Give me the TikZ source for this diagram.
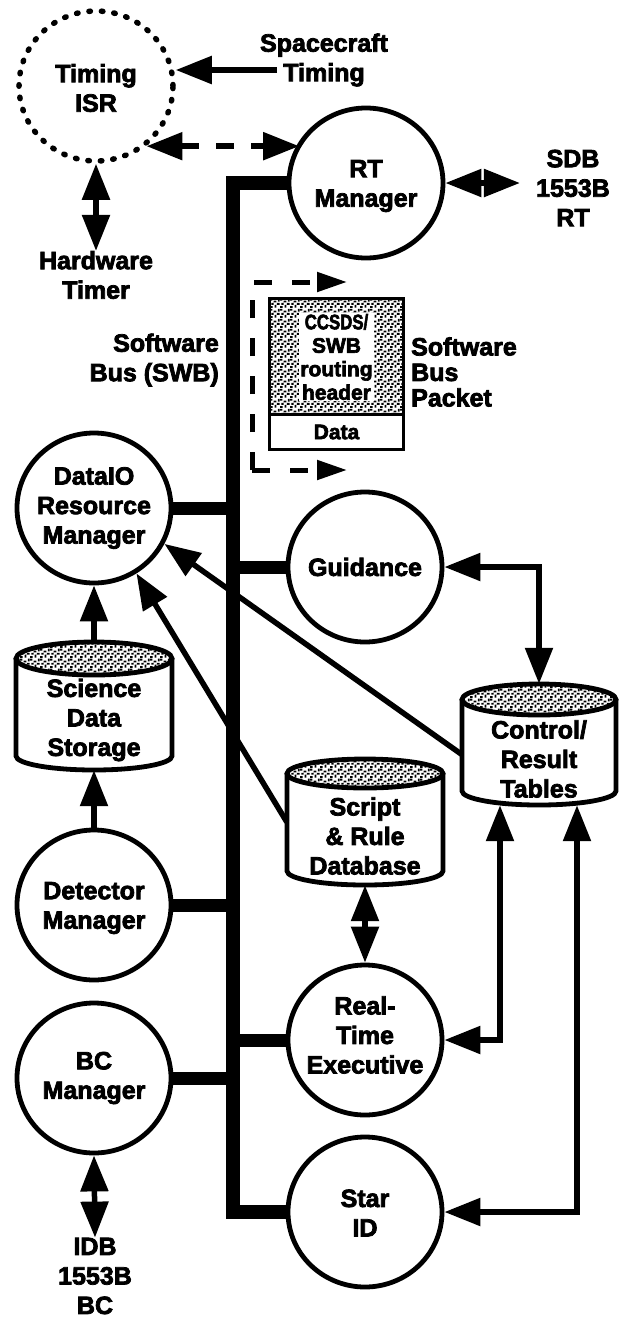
\documentclass[tikz,border=0pt]{standalone}
\usepackage{fontspec}
\setmainfont{Liberation Sans}[BoldFeatures={FakeBold=3}]
\usetikzlibrary{arrows.meta,shapes.geometric,patterns}
\pgfdeclarepatternformonly{speckle}{\pgfpoint{0pt}{0pt}}{\pgfpoint{10pt}{10pt}}{\pgfpoint{10pt}{10pt}}{%
  \pgfpathrectangle{\pgfpoint{0pt}{0pt}}{\pgfpoint{3pt}{2pt}}%
  \pgfpathrectangle{\pgfpoint{5pt}{0.5pt}}{\pgfpoint{2pt}{3pt}}%
  \pgfpathrectangle{\pgfpoint{7.5pt}{3.5pt}}{\pgfpoint{3pt}{2pt}}%
  \pgfpathrectangle{\pgfpoint{1.5pt}{3.5pt}}{\pgfpoint{2.5pt}{2pt}}%
  \pgfpathrectangle{\pgfpoint{4pt}{6pt}}{\pgfpoint{3pt}{2pt}}%
  \pgfpathrectangle{\pgfpoint{8.5pt}{7pt}}{\pgfpoint{2pt}{3pt}}%
  \pgfpathrectangle{\pgfpoint{0pt}{8pt}}{\pgfpoint{2.5pt}{2pt}}%
  \pgfusepath{fill}}
\begin{document}
\begin{tikzpicture}[x=1pt,y=-1pt,
  proc/.style={ellipse, draw, line width=4.8pt, minimum width=154pt, minimum height=150pt, inner sep=0pt},
  timer/.style={proc, line width=5.5pt, dash pattern=on 1.5pt off 11pt, line cap=round},
  txt/.style={font=\bfseries\fontsize{25}{29.5}\selectfont, align=center, inner sep=0pt},
  small/.style={font=\bfseries\fontsize{21}{23.5}\selectfont, align=center, inner sep=0pt},
  bus/.style={line width=14pt, line join=miter},
  stub/.style={line width=13pt, shorten <=-3pt},
  stubl/.style={line width=13pt, shorten >=-3pt},
  arr/.style={line width=5.5pt, -{Triangle[length=36pt,width=27pt]}},
  darr/.style={line width=5.5pt, {Triangle[length=36pt,width=27pt]}-{Triangle[length=36pt,width=27pt]}},
  cyl/.style={line width=4.8pt, fill=white},
  speck/.style={line width=4.8pt, preaction={fill=white}, pattern=speckle},
  abox/.style={draw=none, inner sep=0pt, rectangle},
  pkd/.style={line width=5pt, dash pattern=on 18pt off 20pt, -{Triangle[length=30pt,width=19pt]}},
]
\useasboundingbox (0,0) rectangle (623,1318);

% ---- process circles
\node[timer] (isr) at (96,86) {};
\node[proc] (rt) at (366,183) {};
\node[proc] (dataio) at (94,508) {};
\node[proc] (guid) at (365,567) {};
\node[proc] (det) at (94,905) {};
\node[proc] (rte) at (365,1040) {};
\node[proc] (bc) at (94,1078) {};
\node[proc] (star) at (365,1212) {};

\node[txt] (isrt) at (96,88) {Timing\\ISR};
\node[txt] (rtt) at (366,186) {RT\\Manager};
\node[txt] (dataiot) at (94,508) {DataIO\\Resource\\Manager};
\node[txt] (guidt) at (365,567) {Guidance};
\node[txt] (dett) at (94,908) {Detector\\Manager};
\node[txt] (rtet) at (365,1035) {Real-\\Time\\Executive};
\node[txt] (bct) at (94,1078) {BC\\Manager};
\node[txt] (start) at (365,1213) {Star\\ID};

% ---- cylinders
\node[abox, minimum width=156pt, minimum height=128pt] (sci) at (94,706) {};
\draw[cyl] (16,658.5) -- (16,756) arc[start angle=180, end angle=360, x radius=78pt, y radius=14pt] -- (172,658.5);
\draw[speck] (94,658.5) ellipse [x radius=78pt, y radius=16.5pt];
\node[txt] (scit) at (94,720) {Science\\Data\\Storage};

\node[abox, minimum width=154pt, minimum height=121pt] (ctl) at (539,744.5) {};
\draw[cyl] (462,699.5) -- (462,791) arc[start angle=180, end angle=360, x radius=77pt, y radius=14pt] -- (616,699.5);
\draw[speck] (539,699.5) ellipse [x radius=77pt, y radius=15.5pt];
\node[txt] (ctlt) at (539,759) {Control/\\Result\\Tables};

\node[abox, minimum width=156pt, minimum height=126pt] (scr) at (365,822) {};
\draw[cyl] (287,773.5) -- (287,871) arc[start angle=180, end angle=360, x radius=78pt, y radius=14pt] -- (443,773.5);
\draw[speck] (365,773.5) ellipse [x radius=78pt, y radius=14.5pt];
\node[txt] (scrt) at (365,836) {Script\\\& Rule\\Database};

% ---- free text
\node[txt] (sc) at (324,60) {Spacecraft\\Timing};
\node[txt] (hw) at (96,275) {Hardware\\Timer};
\node[txt, inner xsep=16pt] (sdb) at (573,188) {SDB\\1553B\\RT};
\node[txt, align=right, anchor=east] (swb) at (219,360) {Software\\Bus (SWB)};
\node[txt, align=left, anchor=west, font=\bfseries\fontsize{25}{25.5}\selectfont] (sbp) at (411,372) {Software\\Bus\\Packet};
\node[txt] (idb) at (95,1276) {IDB\\1553B\\BC};

% ---- software bus
\coordinate (bustop) at (233,183);
\coordinate (busbot) at (233,1212);
\draw[bus] (rt.west) -- (bustop) -- (busbot) -- (star.west);
\draw[stub] (dataio.east) -- (dataio.east -| bustop);
\draw[stubl] (guid.west -| bustop) -- (guid.west);
\draw[stub] (det.east) -- (det.east -| bustop);
\draw[stubl] (rte.west -| bustop) -- (rte.west);
\draw[stub] (bc.east) -- (bc.east -| bustop);

% ---- packet
\node[abox, minimum width=134pt, minimum height=150pt] (pkt) at (336.5,374) {};
\coordinate (pdiv) at (336.5,414);
\fill[white] (pkt.north west) rectangle (pkt.south east);
\fill[pattern=speckle] (pkt.north west) rectangle (pkt.east |- pdiv);
\draw[line width=3pt] (pkt.west |- pdiv) -- (pkt.east |- pdiv);
\draw[line width=3pt] (pkt.north west) rectangle (pkt.south east);
\node[small, fill=white, inner sep=1pt] (hdr) at (336.5,357) {\scalebox{0.8}[1]{CCSDS/}\\SWB\\routing\\header};
\node[small] (dat) at (336.5,432) {Data};
\coordinate (pa) at (252,282);
\coordinate (pb) at (252,470);
\coordinate (pta) at (347,282);
\coordinate (ptb) at (347,470);
\draw[pkd] (pb) -- (pa) -- (pta);
\draw[pkd] (pb) -- (ptb);

% ---- connectors
\coordinate (scin) at (277,70);
\draw[arr] (scin) -- (scin -| isr.east);
\draw[darr, dash pattern=on 18pt off 17pt] (isr.-50) -- (isr.-50 -| rt.148);
\draw[darr] (isr.south) -- (hw.north);
\draw[darr] (rt.east) -- (rt.east -| sdb.west);
\draw[arr] (sci.north) -- (sci.north |- dataio.south);
\draw[arr] (det.north) -- (det.north |- sci.south);
\draw[arr] ([yshift=-10pt]ctl.west) -- (dataio.-27);
\draw[arr] (scr.west) -- (dataio.-57);
\draw[darr] (guid.east) -| (ctl.north);
\draw[darr] (scr.south) -- (rte.north);
\draw[darr] (rte.east) -| ([xshift=-39pt]ctl.south);
\draw[darr] (star.east) -| ([xshift=38pt]ctl.south);
\draw[darr] (bc.south) -- (idb.north);
\end{tikzpicture}
\end{document}
